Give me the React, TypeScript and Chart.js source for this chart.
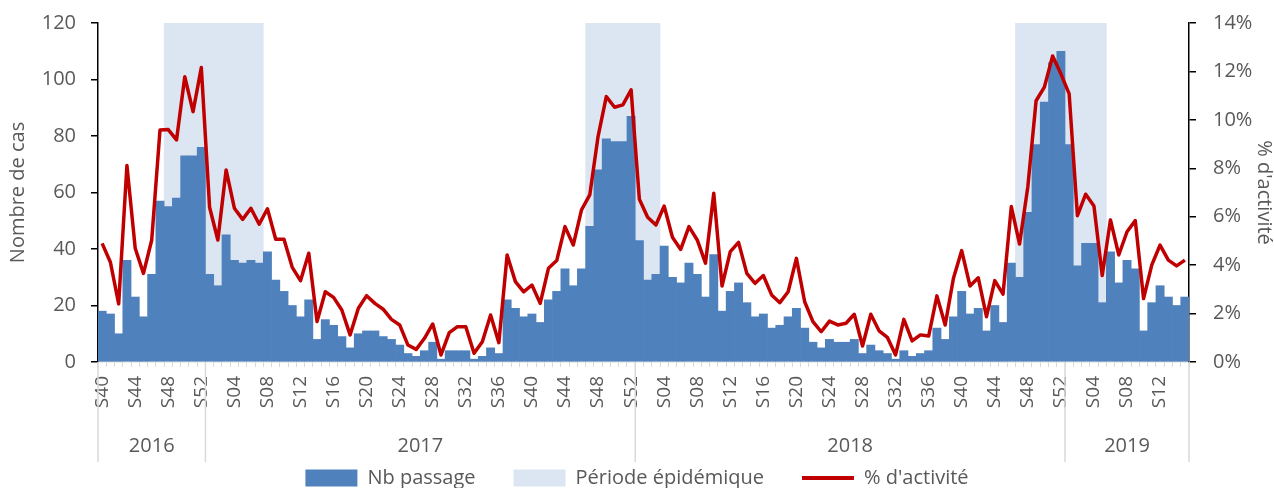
import React, { useEffect, useRef } from "react";
import { Chart, registerables } from "chart.js";

Chart.register(...registerables);

// ---- Data ----
const years = ["2016", "2017", "2018", "2019"];
const firstWeek = [40, 1, 1, 1];
const lastWeek = [52, 52, 52, 15];

const nbPassage2016 = [18, 17, 10, 36, 23, 16, 31, 57, 55, 58, 73, 73, 76];
const nbPassage2017 = [31, 27, 45, 36, 35, 36, 35, 39, 29, 25, 20, 16, 22, 8, 15, 13, 9, 5, 10, 11, 11, 9, 8, 6, 3, 2, 4, 7, 1, 4, 4, 4, 1, 2, 5, 3, 22, 19, 16, 17, 14, 22, 25, 33, 27, 33, 48, 68, 79, 78, 78, 87];
const nbPassage2018 = [43, 29, 31, 41, 30, 28, 35, 31, 23, 38, 18, 25, 28, 21, 16, 17, 12, 13, 16, 19, 12, 7, 5, 8, 7, 7, 8, 3, 6, 4, 3, 1, 4, 2, 3, 4, 12, 8, 16, 25, 17, 19, 11, 20, 14, 35, 30, 53, 77, 92, 106, 110];
const nbPassage2019 = [77, 34, 42, 42, 21, 39, 28, 36, 33, 11, 21, 27, 23, 20, 23];

const activite2016 = [4.9, 4.12, 2.4, 8.12, 4.7, 3.66, 5.04, 9.58, 9.6, 9.17, 11.78, 10.34, 12.16];
const activite2017 = [6.39, 5.04, 7.93, 6.35, 5.89, 6.35, 5.69, 6.33, 5.07, 5.07, 3.91, 3.36, 4.49, 1.67, 2.9, 2.67, 2.15, 1.12, 2.22, 2.74, 2.42, 2.18, 1.76, 1.53, 0.7, 0.52, 0.98, 1.57, 0.29, 1.21, 1.46, 1.46, 0.36, 0.84, 1.94, 0.8, 4.42, 3.32, 2.9, 3.18, 2.42, 3.87, 4.19, 5.59, 4.83, 6.28, 6.9, 9.31, 10.96, 10.52, 10.62, 11.24];
const activite2018 = [6.72, 5.98, 5.66, 6.44, 5.15, 4.65, 5.59, 5.04, 4.08, 6.97, 3.14, 4.56, 4.94, 3.66, 3.25, 3.57, 2.77, 2.45, 2.9, 4.28, 2.49, 1.67, 1.25, 1.69, 1.53, 1.6, 1.97, 0.66, 1.97, 1.29, 1.02, 0.29, 1.76, 0.87, 1.12, 1.07, 2.73, 1.53, 3.46, 4.6, 3.14, 3.48, 1.87, 3.36, 2.8, 6.42, 4.87, 7.24, 10.79, 11.35, 12.64, 11.9];
const activite2019 = [11.07, 6.04, 6.93, 6.44, 3.57, 5.87, 4.42, 5.38, 5.84, 2.62, 4.01, 4.83, 4.21, 3.97, 4.21];

const epidemicStart = ["2016-S48", "2017-S47", "2018-S47"];
const epidemicEnd = ["2017-S07", "2018-S03", "2019-S05"];
const epidemicHeight = 120;

const leftTicksMax = 120;
const leftStep = 20;
const rightTicksMax = 14;
const rightStep = 2;

// ---- Derived tables ----
const pad2 = (n: number) => (n < 10 ? "0" + n : "" + n);
const weekLabels: string[] = [];
const weekKeys: string[] = [];
years.forEach((y, yi) => {
  for (let w = firstWeek[yi]; w <= lastWeek[yi]; w++) {
    weekLabels.push("S" + pad2(w));
    weekKeys.push(y + "-S" + pad2(w));
  }
});
const nbPassage = [...nbPassage2016, ...nbPassage2017, ...nbPassage2018, ...nbPassage2019];
const activite = [...activite2016, ...activite2017, ...activite2018, ...activite2019];
const epidemic = weekKeys.map((_, i) => {
  for (let p = 0; p < epidemicStart.length; p++) {
    const s = weekKeys.indexOf(epidemicStart[p]);
    const e = weekKeys.indexOf(epidemicEnd[p]);
    if (i >= s && i <= e) return epidemicHeight;
  }
  return null;
});

const FONT = "'Open Sans', sans-serif";
const TEXT = "#595959";

const yearRowPlugin = {
  id: "yearRow",
  afterDraw(chart: any) {
    const xs = chart.scales.x;
    const ctx = chart.ctx;
    const n = weekLabels.length;
    const w = xs.width / n;
    const top = xs.top;
    ctx.save();
    ctx.strokeStyle = "#d9d9d9";
    ctx.lineWidth = 1.5;
    ctx.fillStyle = TEXT;
    ctx.font = "20px " + FONT;
    ctx.textAlign = "center";
    ctx.textBaseline = "middle";
    let start = 0;
    years.forEach((y, yi) => {
      const count = lastWeek[yi] - firstWeek[yi] + 1;
      const left = xs.getPixelForValue(start) - w / 2;
      const right = xs.getPixelForValue(start + count - 1) + w / 2;
      ctx.beginPath();
      ctx.moveTo(left, top);
      ctx.lineTo(left, top + 100);
      ctx.stroke();
      if (yi === years.length - 1) {
        ctx.beginPath();
        ctx.moveTo(right, top);
        ctx.lineTo(right, top + 100);
        ctx.stroke();
      }
      ctx.fillText(y, (left + right) / 2, top + 84);
      start += count;
    });
    ctx.restore();
  },
};

export default function App() {
  const ref = useRef<HTMLCanvasElement | null>(null);
  useEffect(() => {
    document.body.style.margin = "0";
    const chart = new Chart(ref.current as HTMLCanvasElement, {
      type: "bar",
      data: {
        labels: weekLabels,
        datasets: [
          {
            type: "bar",
            label: "Nb passage",
            data: nbPassage,
            backgroundColor: "#4f81bd",
            borderWidth: 0,
            grouped: false,
            barPercentage: 1,
            categoryPercentage: 1,
            yAxisID: "y",
            order: 1,
          } as any,
          {
            type: "bar",
            label: "Période épidémique",
            data: epidemic,
            backgroundColor: "#dce6f2",
            borderWidth: 0,
            grouped: false,
            barPercentage: 1,
            categoryPercentage: 1,
            yAxisID: "y",
            order: 2,
          } as any,
          {
            type: "line",
            label: "% d'activité",
            data: activite,
            borderColor: "#c00000",
            backgroundColor: "#c00000",
            borderWidth: 3.5,
            pointRadius: 0,
            tension: 0,
            borderJoinStyle: "round",
            yAxisID: "y1",
            order: 0,
          } as any,
        ],
      },
      options: {
        animation: false,
        responsive: true,
        maintainAspectRatio: false,
        layout: { padding: { top: 23, left: 0, right: 0, bottom: 0 } },
        plugins: {
          tooltip: { enabled: false },
          legend: {
            position: "bottom",
            maxHeight: 58,
            labels: {
              usePointStyle: true,
              pointStyleWidth: 52,
              boxHeight: 17,
              padding: 38,
              color: TEXT,
              font: { family: FONT, size: 20 },
              sort: (a: any, b: any) => a.datasetIndex - b.datasetIndex,
              generateLabels: (chart: any) => {
                const items = (Chart.defaults.plugins.legend.labels as any).generateLabels(chart);
                items.forEach((it: any) => {
                  if (it.datasetIndex === 2) {
                    it.pointStyle = "line";
                    it.lineWidth = 4;
                    it.strokeStyle = "#c00000";
                  } else {
                    it.pointStyle = "rect";
                    it.lineWidth = 0;
                  }
                });
                return items;
              },
            },
          } as any,
        },
        scales: {
          x: {
            offset: true,
            grid: {
              offset: true,
              drawOnChartArea: false,
              drawTicks: true,
              tickLength: 5,
              color: "#d9d9d9",
            },
            border: { color: "#d9d9d9", width: 1.5 },
            ticks: {
              autoSkip: false,
              minRotation: 90,
              maxRotation: 90,
              padding: 9,
              color: TEXT,
              font: { family: FONT, size: 19 },
              callback: (_v: any, i: number) => {
                const wk = parseInt(weekLabels[i].slice(1), 10);
                return wk % 4 === 0 ? weekLabels[i] : "";
              },
            },
            afterFit: (s: any) => {
              s.height = 68;
            },
          } as any,
          y: {
            position: "left",
            min: 0,
            max: leftTicksMax,
            ticks: {
              stepSize: leftStep,
              padding: 15,
              color: TEXT,
              font: { family: FONT, size: 20 },
            },
            grid: { drawOnChartArea: false, drawTicks: true, tickLength: 7, color: "#000", lineWidth: 1.5 },
            border: { color: "#000", width: 1.5 },
            title: {
              display: true,
              text: "Nombre de cas",
              color: TEXT,
              font: { family: FONT, size: 20, lineHeight: 1 },
              padding: { top: 8.5, bottom: 0 },
            },
            afterFit: (s: any) => {
              s.width = 98;
              s.paddingTop = 0;
              s.paddingBottom = 0;
            },
          } as any,
          y1: {
            position: "right",
            min: 0,
            max: rightTicksMax,
            ticks: {
              stepSize: rightStep,
              padding: 17,
              color: TEXT,
              font: { family: FONT, size: 20 },
              callback: (v: any) => v + "%",
            },
            grid: { drawOnChartArea: false, drawTicks: true, tickLength: 7, color: "#000", lineWidth: 1.5 },
            border: { color: "#000", width: 1.5 },
            title: {
              display: true,
              text: "% d'activité",
              color: TEXT,
              font: { family: FONT, size: 20, lineHeight: 1 },
              padding: { top: 0, bottom: 0 },
            },
            afterFit: (s: any) => {
              s.width = 85;
              s.paddingTop = 0;
              s.paddingBottom = 0;
            },
          } as any,
        },
      },
      plugins: [yearRowPlugin],
    });
    return () => chart.destroy();
  }, []);
  return (
    <div style={{ position: "fixed", left: 0, top: 0, width: 1274, height: 488 }}>
      <canvas ref={ref} />
    </div>
  );
}
